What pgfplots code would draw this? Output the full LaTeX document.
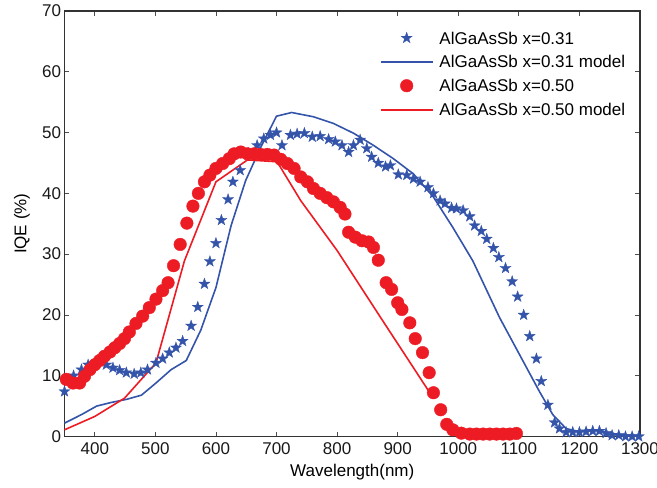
\documentclass[border=0pt]{standalone}
\usepackage{fontspec}
\setmainfont{Liberation Sans}
\usepackage{pgfplots}
\pgfplotsset{compat=1.18}
\definecolor{mblue}{RGB}{52,84,170}
\definecolor{mred}{RGB}{237,28,36}
\pgfdeclareplotmark{pstar}{%
 \pgfpathmoveto{\pgfqpointpolar{90}{\pgfplotmarksize}}%
 \pgfpathlineto{\pgfqpointpolar{126}{0.40\pgfplotmarksize}}%
 \pgfpathlineto{\pgfqpointpolar{162}{\pgfplotmarksize}}%
 \pgfpathlineto{\pgfqpointpolar{198}{0.40\pgfplotmarksize}}%
 \pgfpathlineto{\pgfqpointpolar{234}{\pgfplotmarksize}}%
 \pgfpathlineto{\pgfqpointpolar{270}{0.40\pgfplotmarksize}}%
 \pgfpathlineto{\pgfqpointpolar{306}{\pgfplotmarksize}}%
 \pgfpathlineto{\pgfqpointpolar{342}{0.40\pgfplotmarksize}}%
 \pgfpathlineto{\pgfqpointpolar{18}{\pgfplotmarksize}}%
 \pgfpathlineto{\pgfqpointpolar{54}{0.40\pgfplotmarksize}}%
 \pgfpathclose
 \pgfusepathqfillstroke
}
\pgfplotsset{
 lineleg/.style={legend image code/.code={\draw[##1] (0pt,0pt) -- (52pt,0pt);}},
 markleg/.style={legend image code/.code={\path[draw=none,fill=none] (0pt,0pt) -- (52pt,0pt); \draw[##1,only marks] plot coordinates {(26pt,0pt)};}},
}
\newcommand{\fs}{\fontsize{17}{20}\selectfont}
\begin{document}
\begin{tikzpicture}
\useasboundingbox (-64.5pt,-51.5pt) rectangle (592.5pt,436.5pt);
\begin{axis}[
 scale only axis, width=575.5pt, height=425.5pt,
 xmin=350, xmax=1300, ymin=0, ymax=70,
 xtick={400,500,...,1300}, ytick={0,10,...,70},
 tick align=inside, major tick length=5pt,
 axis line style={line width=1.2pt, color=black!80},
 every tick/.style={line width=0.8pt, color=black!70},
 ticklabel style={font=\fs, text=black!90},
 xticklabel style={yshift=-3pt},
 /pgf/number format/assume math mode=true,
 /pgf/number format/1000 sep={},
 xlabel={Wavelength(nm)}, ylabel={IQE (\%)},
 xlabel style={font=\fs, at={(axis description cs:0.5,-0.0834)}, anchor=center},
 ylabel style={font=\fs, at={(axis description cs:-0.074,0.5)}, anchor=center},
 clip=false,
 legend style={draw=none, fill=none, inner sep=0pt, outer sep=0pt,
   at={(0.548,0.9506)}, anchor=north west, font=\fs,
   nodes={text height=12pt, text depth=0pt, inner sep=0pt},
   row sep=11.7pt, column sep=6pt},
 legend cell align=left,
]
\addplot[only marks, mark=pstar, mark size=5.8pt, mblue, mark options={fill=mblue, draw=mblue, line width=0.3pt}, markleg]
 coordinates {
(350,7.4)(365,10.0)(378,11.0)(389,11.8)(402,12.1)(419,11.8)(430,11.3)(441,10.9)
(452,10.5)(465,10.3)(476,10.5)(487,11.0)(501,12.1)(512,12.8)(523,13.8)(534,14.6)
(545,15.7)(559,18.2)(570,21.3)(581,25.1)(590,28.8)(600,31.8)(609,35.6)(620,39.0)
(628,41.9)(640,43.8)(654,46.6)(668,47.9)(679,49.0)(690,49.6)(700,50.0)(709,47.9)
(723,49.6)(734,49.8)(746,49.9)(759,49.3)(772,49.4)(786,48.9)(797,48.5)(808,47.9)
(819,46.8)(827,47.9)(838,48.8)(849,47.4)(857,46.0)(868,45.0)(880,44.4)(888,44.6)
(901,43.1)(915,43.0)(926,42.4)(937,41.9)(950,41.0)(959,40.0)(970,38.8)(978,38.3)
(989,37.6)(997,37.5)(1008,37.2)(1019,36.2)(1027,34.7)(1038,33.8)(1047,32.5)(1058,31.0)
(1067,29.5)(1078,27.7)(1089,25.5)(1098,23.0)(1108,20.0)(1118,16.5)(1129,12.8)(1137,9.1)
(1148,5.2)(1159,2.3)(1167,1.3)(1178,0.7)(1189,0.7)(1200,0.7)(1211,0.8)(1222,0.9)
(1233,0.9)(1244,0.55)(1254,0.2)(1265,0.2)(1276,0.0)(1287,0.0)(1298,0.0)
 };
\addlegendentry{AlGaAsSb x=0.31}
\addplot[mblue, line width=1.6pt, mark=none, lineleg]
 coordinates {
(350,2.2)(378,3.6)(403,5.0)(427,5.6)(452,6.1)(477,6.8)(501,8.8)(526,11.0)
(551,12.5)(575,17.5)(600,24.5)(625,34.7)(649,42.1)(674,47.6)(700,52.7)(725,53.3)
(761,52.6)(794,51.5)(827,49.9)(860,47.9)(893,45.7)(926,43.2)(959,39.4)(991,34.4)
(1024,28.9)(1068,19.6)(1101,13.5)(1134,7.4)(1156,3.6)(1178,1.3)(1200,0.8)(1225,1.0)
(1245,0.7)(1265,0.3)(1285,0.2)(1300,0.1)
 };
\addlegendentry{AlGaAsSb x=0.31 model}
\addplot[only marks, mark=*, mark size=6.3pt, mred, mark options={fill=mred, draw=mred}, markleg]
 coordinates {
(353,9.4)(364,8.8)(375,8.8)(383,9.9)(392,11.0)(400,11.8)(408,12.5)(416,13.2)
(425,13.9)(433,14.6)(441,15.3)(449,16.1)(457,17.2)(468,18.6)(479,19.8)(490,21.2)
(501,22.6)(512,24.0)(521,25.3)(530,28.1)(541,31.6)(552,35.1)(562,37.9)(571,40.0)
(581,41.9)(590,43.0)(600,44.1)(611,44.9)(622,45.7)(630,46.5)(641,46.8)(652,46.5)
(663,46.5)(674,46.4)(685,46.4)(696,46.3)(707,45.6)(718,44.9)(729,44.1)(740,42.7)
(751,41.9)(761,40.8)(772,40.0)(783,39.3)(794,38.6)(805,37.7)(813,36.6)(819,33.6)
(830,32.8)(841,32.2)(852,32.0)(860,31.1)(868,29.0)(881,25.3)(890,24.2)(900,22.0)
(907,20.9)(920,18.7)(929,16.1)(941,13.8)(952,10.5)(959,7.2)(971,4.4)(981,2.0)
(991,1.1)(1005,0.55)(1019,0.4)(1030,0.4)(1041,0.4)(1052,0.4)(1063,0.4)(1074,0.4)
(1085,0.4)(1096,0.5)
 };
\addlegendentry{AlGaAsSb x=0.50}
\addplot[mred, line width=1.6pt, mark=none, lineleg]
 coordinates {
(350,1.1)(400,3.3)(449,6.3)(501,12.1)(548,28.9)(600,41.9)(652,45.5)(701,45.2)
(740,38.8)(800,30.6)(871,19.7)(953,7.2)
 };
\addlegendentry{AlGaAsSb x=0.50 model}
\end{axis}
\end{tikzpicture}
\end{document}
